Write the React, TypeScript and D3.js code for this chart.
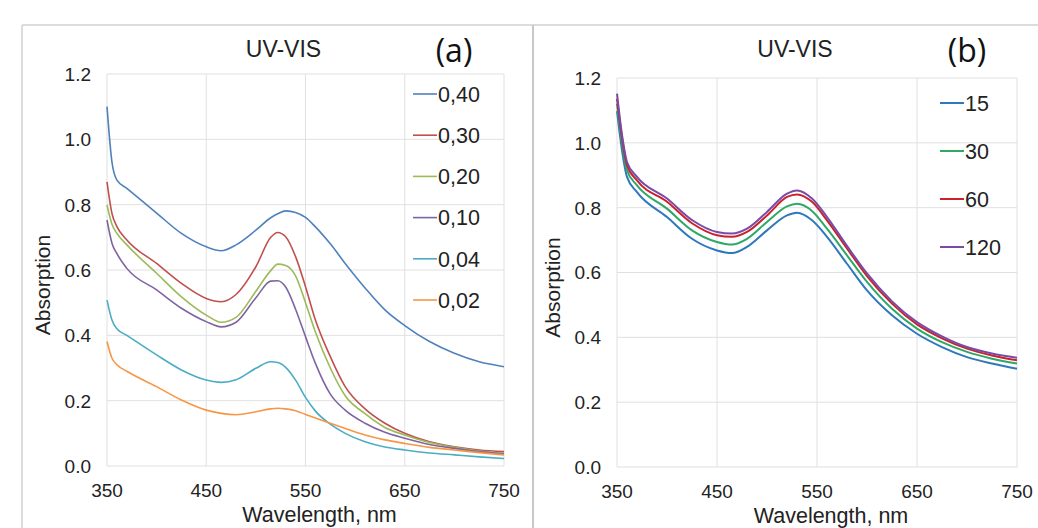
import React from 'react';
import * as d3 from 'd3';

const waveA = [350, 355, 360, 370, 400, 425, 450, 465, 480, 500, 515, 522, 530, 540, 550, 560, 575, 590, 610, 630, 650, 675, 700, 725, 750];

const a040 = [1.10, 0.93, 0.875, 0.85, 0.774, 0.712, 0.671, 0.659, 0.677, 0.722, 0.760, 0.772, 0.781, 0.776, 0.761, 0.732, 0.680, 0.620, 0.545, 0.478, 0.430, 0.381, 0.345, 0.319, 0.304];
const a030 = [0.870, 0.773, 0.733, 0.692, 0.620, 0.559, 0.513, 0.503, 0.525, 0.610, 0.700, 0.715, 0.702, 0.641, 0.549, 0.447, 0.335, 0.243, 0.175, 0.131, 0.100, 0.074, 0.059, 0.049, 0.044];
const a020 = [0.799, 0.740, 0.712, 0.677, 0.590, 0.518, 0.462, 0.440, 0.455, 0.535, 0.598, 0.618, 0.614, 0.582, 0.500, 0.410, 0.300, 0.215, 0.160, 0.118, 0.095, 0.072, 0.057, 0.046, 0.039];
const a010 = [0.753, 0.682, 0.650, 0.605, 0.539, 0.483, 0.442, 0.426, 0.440, 0.515, 0.566, 0.567, 0.548, 0.480, 0.396, 0.314, 0.220, 0.171, 0.131, 0.103, 0.085, 0.066, 0.054, 0.044, 0.037];
const a004 = [0.508, 0.447, 0.420, 0.400, 0.340, 0.294, 0.263, 0.256, 0.264, 0.299, 0.319, 0.317, 0.302, 0.263, 0.210, 0.168, 0.128, 0.100, 0.074, 0.058, 0.049, 0.040, 0.034, 0.028, 0.023];
const a002 = [0.381, 0.330, 0.310, 0.290, 0.243, 0.202, 0.171, 0.161, 0.157, 0.166, 0.175, 0.177, 0.175, 0.169, 0.158, 0.147, 0.131, 0.115, 0.095, 0.080, 0.069, 0.057, 0.049, 0.041, 0.034];

const waveB = [350, 355, 360, 370, 400, 425, 450, 465, 480, 500, 520, 530, 545, 560, 580, 600, 625, 650, 675, 700, 725, 750];

const b15 = [1.098, 0.977, 0.895, 0.848, 0.771, 0.704, 0.668, 0.660, 0.679, 0.730, 0.776, 0.784, 0.761, 0.710, 0.627, 0.545, 0.468, 0.411, 0.370, 0.339, 0.319, 0.303];
const b30 = [1.120, 1.000, 0.915, 0.869, 0.797, 0.730, 0.694, 0.686, 0.704, 0.756, 0.804, 0.812, 0.790, 0.735, 0.653, 0.571, 0.488, 0.427, 0.385, 0.355, 0.334, 0.319];
const b60 = [1.136, 1.015, 0.931, 0.884, 0.818, 0.752, 0.715, 0.710, 0.725, 0.776, 0.833, 0.841, 0.818, 0.761, 0.674, 0.589, 0.504, 0.440, 0.397, 0.365, 0.344, 0.329];
const b120 = [1.152, 1.025, 0.941, 0.895, 0.828, 0.762, 0.725, 0.720, 0.735, 0.787, 0.843, 0.853, 0.828, 0.771, 0.682, 0.597, 0.511, 0.447, 0.403, 0.370, 0.350, 0.337];

const namesA = ['0,40', '0,30', '0,20', '0,10', '0,04', '0,02'];
const colorsA = ['#4f81bd', '#c0504d', '#9bbb59', '#8064a2', '#4bacc6', '#f79646'];
const namesB = ['15', '30', '60', '120'];
const colorsB = ['#2e78bb', '#2fa866', '#c8232c', '#7a4aa8'];

const xTicks = [350, 450, 550, 650, 750];
const yTicks = [0, 0.2, 0.4, 0.6, 0.8, 1.0, 1.2];

const font = 'Liberation Sans, Arial, sans-serif';

type Series = { name: string; color: string; values: number[] };

const Panel = ({ left, right, top, bottom, waves, series, tag, legendX, legendY, legendStep, lw, yLabelX }:
  { left: number; right: number; top: number; bottom: number; waves: number[]; series: Series[]; tag: string;
    legendX: number; legendY: number; legendStep: number; lw: number; yLabelX: number }) => {
  const x = d3.scaleLinear().domain([350, 750]).range([left, right]);
  const y = d3.scaleLinear().domain([0, 1.2]).range([bottom, top]);
  const line = d3.line<number>()
    .x((d, i) => x(waves[i]))
    .y(d => y(d))
    .curve(d3.curveMonotoneX);
  const mid = (left + right) / 2;
  return (
    <g>
      {xTicks.map(t => (
        <line key={'gx' + t} x1={x(t)} x2={x(t)} y1={top} y2={bottom} stroke="#e0e0e0" strokeWidth={1} />
      ))}
      {yTicks.map(t => (
        <line key={'gy' + t} x1={left} x2={right} y1={y(t)} y2={y(t)} stroke="#e0e0e0" strokeWidth={1} />
      ))}
      {yTicks.map(t => (
        <text key={'ty' + t} x={left - 16} y={y(t)} dy="0.36em" textAnchor="end" fontSize={19} fill="#222" fontFamily={font}>
          {t.toFixed(1)}
        </text>
      ))}
      {xTicks.map(t => (
        <text key={'tx' + t} x={x(t)} y={bottom + 31} textAnchor="middle" fontSize={19} fill="#222" fontFamily={font}>
          {t}
        </text>
      ))}
      {series.map(s => (
        <path key={s.name} d={line(s.values) || ''} fill="none" stroke={s.color} strokeWidth={lw} />
      ))}
      {series.map((s, i) => (
        <g key={'lg' + s.name}>
          <line x1={legendX} x2={legendX + 24} y1={legendY + i * legendStep} y2={legendY + i * legendStep} stroke={s.color} strokeWidth={lw} />
          <text x={legendX + 25} y={legendY + i * legendStep} dy="0.36em" fontSize={21.5} fill="#222" fontFamily={font}>{s.name}</text>
        </g>
      ))}
      <text x={mid - 22} y={57} textAnchor="middle" fontSize={23} fill="#222" fontFamily={font}>UV-VIS</text>
      <text x={right - 50} y={62} textAnchor="middle" fontSize={32} fill="#111" fontFamily="Open Sans, sans-serif">{tag}</text>
      <text transform={`translate(${yLabelX},${(top + bottom) / 2 + 15}) rotate(-90)`} textAnchor="middle" fontSize={21} fill="#222" fontFamily={font}>Absorption</text>
      <text x={mid + 14} y={bottom + 56} textAnchor="middle" fontSize={21.5} fill="#222" fontFamily={font}>Wavelength, nm</text>
    </g>
  );
};

export default function App() {
  const seriesA: Series[] = [a040, a030, a020, a010, a004, a002].map((v, i) => ({ name: namesA[i], color: colorsA[i], values: v }));
  const seriesB: Series[] = [b15, b30, b60, b120].map((v, i) => ({ name: namesB[i], color: colorsB[i], values: v }));
  return (
    <svg width={1038} height={528} style={{ position: 'absolute', left: 0, top: 0, background: '#fff' }}>
      <rect x={0} y={0} width={1038} height={528} fill="#fff" />
      <line x1={22} x2={1038} y1={25} y2={25} stroke="#d0d0d0" strokeWidth={1.5} />
      <line x1={22} x2={22} y1={25} y2={528} stroke="#d0d0d0" strokeWidth={1.5} />
      <line x1={533} x2={533} y1={25} y2={528} stroke="#c8c8c8" strokeWidth={2} />
      <Panel left={107} right={504} top={74} bottom={466} waves={waveA} series={seriesA} tag="(a)"
        legendX={413} legendY={94} legendStep={41.2} lw={1.6} yLabelX={50} />
      <Panel left={617} right={1017} top={78} bottom={467} waves={waveB} series={seriesB} tag="(b)"
        legendX={940} legendY={103} legendStep={48} lw={2} yLabelX={560} />
    </svg>
  );
}
